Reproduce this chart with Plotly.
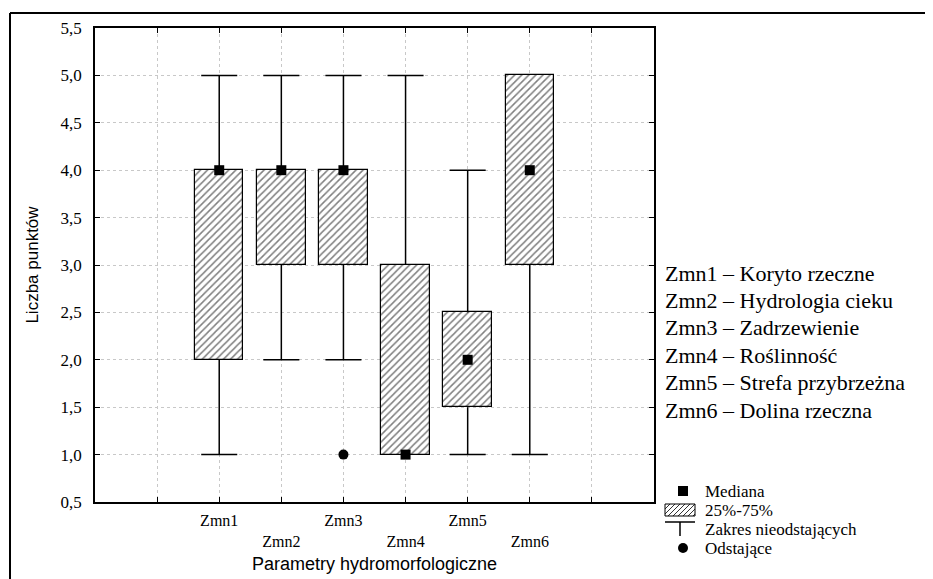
import plotly.graph_objects as go

categories = ["Zmn1", "Zmn2", "Zmn3", "Zmn4", "Zmn5", "Zmn6"]
descriptions = ["Koryto rzeczne", "Hydrologia cieku", "Zadrzewienie",
                "Roślinność", "Strefa przybrzeżna", "Dolina rzeczna"]
minimum = [1, 2, 2, 1, 1, 1]
q1 = [2, 3, 3, 1, 1.5, 3]
median = [4, 4, 4, 1, 2, 4]
q3 = [4, 4, 4, 3, 2.5, 5]
maximum = [5, 5, 5, 5, 4, 5]
outlier_cat = ["Zmn3"]
outlier_val = [1]
y_ticks = [0.5, 1.0, 1.5, 2.0, 2.5, 3.0, 3.5, 4.0, 4.5, 5.0, 5.5]
legend_names = ["Mediana", "25%-75%", "Zakres nieodstających", "Odstające"]

pos = {c: i + 2 for i, c in enumerate(categories)}
xs = [pos[c] for c in categories]
box_w = 0.78
cap_w = 0.58

SERIF = "Liberation Serif, Times New Roman, serif"
SANS = "Liberation Sans, Arial, sans-serif"

# plot-area geometry (pixels) used to place decorations in paper coordinates
ML, MT, PW, PH = 87, 20, 559, 474
OFF = 8  # page body offset


def px(x):
    return (x - OFF - ML) / PW


def py(y):
    return 1 - (y - OFF - MT) / PH


fig = go.Figure()

# whiskers
wx, wy = [], []
for x, lo, a, b, hi in zip(xs, minimum, q1, q3, maximum):
    if hi > b:
        wx += [x, x, None, x - cap_w / 2, x + cap_w / 2, None]
        wy += [b, hi, None, hi, hi, None]
    if lo < a:
        wx += [x, x, None, x - cap_w / 2, x + cap_w / 2, None]
        wy += [lo, a, None, lo, lo, None]
fig.add_trace(go.Scatter(x=wx, y=wy, mode="lines", line=dict(color="black", width=1.5),
                         name=legend_names[2], showlegend=False, hoverinfo="skip"))

# boxes
fig.add_trace(go.Bar(x=xs, y=[b - a for a, b in zip(q1, q3)], base=q1, width=box_w,
                     marker=dict(color="white", line=dict(color="black", width=1.2),
                                 pattern=dict(shape="/", fgcolor="black", bgcolor="white",
                                              size=5, solidity=0.3)),
                     name=legend_names[1], showlegend=False))

# medians
fig.add_trace(go.Scatter(x=xs, y=median, mode="markers",
                         marker=dict(symbol="square", size=10, color="black"),
                         name=legend_names[0], showlegend=False))

# outliers
fig.add_trace(go.Scatter(x=[pos[c] for c in outlier_cat], y=outlier_val, mode="markers",
                         marker=dict(symbol="circle", size=10, color="black"),
                         name=legend_names[3], showlegend=False))

tickvals = list(range(1, len(categories) + 3))
ticktext = [""] + [c if i % 2 == 0 else "<br>" + c for i, c in enumerate(categories)] + [""]

fig.update_layout(
    width=933, height=579,
    margin=dict(l=ML, r=933 - ML - PW, t=MT, b=579 - MT - PH, autoexpand=False),
    plot_bgcolor="white", paper_bgcolor="white",
    bargap=0,
    showlegend=False,
    xaxis=dict(range=[0, len(categories) + 3], tickvals=tickvals, ticktext=ticktext,
               showgrid=True, gridcolor="#c8c8c8", griddash="dot", gridwidth=1,
               zeroline=False, showline=True, linecolor="black", linewidth=1.5,
               mirror="ticks", ticks="inside", ticklen=5, tickcolor="black",
               ticklabelstandoff=3,
               tickfont=dict(family=SERIF, size=16, color="black"),
               title=dict(text="Parametry hydromorfologiczne",
                          font=dict(family=SANS, size=18, color="black"), standoff=9)),
    yaxis=dict(range=[0.5, 5.5], tickvals=y_ticks,
               ticktext=[f"{v:.1f}".replace(".", ",") for v in y_ticks],
               showgrid=True, gridcolor="#c8c8c8", griddash="dot", gridwidth=1,
               zeroline=False, showline=True, linecolor="black", linewidth=1.5,
               mirror="ticks", ticks="inside", ticklen=5, tickcolor="black",
               ticklabelstandoff=8,
               tickfont=dict(family=SERIF, size=17, color="black"),
               title=dict(text="Liczba punktów",
                          font=dict(family=SANS, size=17, color="black"), standoff=18)),
    font=dict(family=SERIF, color="black"),
)

# description list on the right
for i, (c, d) in enumerate(zip(categories, descriptions)):
    fig.add_annotation(xref="paper", yref="paper", x=px(663), y=py(273 + i * 27.4),
                       xanchor="left", yanchor="middle", showarrow=False,
                       text=f"{c} – {d}",
                       font=dict(family=SERIF, size=22, color="black"))

# custom legend (symbols + texts)
leg_y = [491, 510, 529, 548]
for name, yy in zip(legend_names, leg_y):
    fig.add_annotation(xref="paper", yref="paper", x=px(703), y=py(yy),
                       xanchor="left", yanchor="middle", showarrow=False, text=name,
                       font=dict(family=SERIF, size=17, color="black"))
# Mediana symbol
fig.add_shape(type="rect", xref="paper", yref="paper", x0=px(678), x1=px(688),
              y0=py(leg_y[0] - 5), y1=py(leg_y[0] + 5), fillcolor="black", line_width=0)
# 25%-75% symbol (hatched rectangle)
hx0, hx1, hy0, hy1 = 665, 695, leg_y[1] - 6, leg_y[1] + 6
fig.add_shape(type="rect", xref="paper", yref="paper", x0=px(hx0), x1=px(hx1),
              y0=py(hy1), y1=py(hy0), fillcolor="white", line=dict(color="black", width=1))
for k in range(hx0 - 12, hx1, 5):
    xa, xb = max(k, hx0), min(k + 12, hx1)
    ya = hy1 - (xa - k)
    yb = hy1 - (xb - k)
    fig.add_shape(type="line", xref="paper", yref="paper", x0=px(xa), x1=px(xb),
                  y0=py(ya), y1=py(yb), line=dict(color="black", width=0.8))
# Zakres symbol (T-shape)
fig.add_shape(type="line", xref="paper", yref="paper", x0=px(665), x1=px(695),
              y0=py(leg_y[2] - 7), y1=py(leg_y[2] - 7), line=dict(color="black", width=1.5))
fig.add_shape(type="line", xref="paper", yref="paper", x0=px(680), x1=px(680),
              y0=py(leg_y[2] - 7), y1=py(leg_y[2] + 7), line=dict(color="black", width=1.5))
# Odstające symbol
fig.add_shape(type="circle", xref="paper", yref="paper", x0=px(678), x1=px(688),
              y0=py(leg_y[3] - 5), y1=py(leg_y[3] + 5), fillcolor="black", line_width=0)

# outer frame (left and top border)
fig.add_shape(type="line", xref="paper", yref="paper", x0=px(10), x1=px(10),
              y0=py(590), y1=py(13), line=dict(color="black", width=2))
fig.add_shape(type="line", xref="paper", yref="paper", x0=px(10), x1=px(960),
              y0=py(13), y1=py(13), line=dict(color="black", width=2))

fig.write_html("out.html")
